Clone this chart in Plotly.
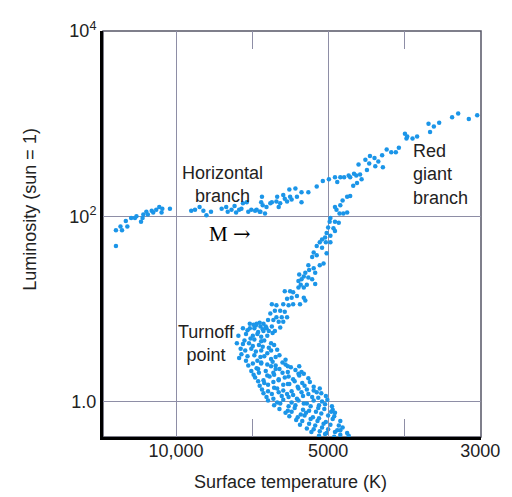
import plotly.graph_objects as go

# x: position along the temperature axis (10,000 K -> 1, 5000 K -> 3, 3000 K -> 5)
# log_lum: log10 of luminosity (sun = 1)

hb_x = [0.21,0.21,0.27,0.29,0.36,0.34,0.41,0.46,0.48,0.56,0.57,0.54,0.61,0.63,0.68,0.70,0.74,0.78,0.81,0.82,
        0.92,1.20,1.25,1.31,1.36,1.40,1.46,1.60,1.66,1.68,1.73,1.77,1.79,1.83,1.86,1.88,1.93,1.95,1.99,2.06,
        2.10,2.12,2.14,2.19,2.04,2.11,2.17,2.13]
hb_log_lum = [1.68,1.85,1.89,1.85,1.89,1.95,1.98,1.98,2.00,1.98,2.02,1.94,2.05,2.02,2.06,2.04,2.07,2.10,2.04,2.08,
              2.08,2.06,2.07,2.10,2.06,2.01,2.05,2.08,2.10,2.05,2.07,2.11,2.04,2.07,2.08,2.14,2.15,2.05,2.07,2.07,
              2.05,2.15,2.12,2.10,2.06,2.05,2.03,2.21]

giant_x = [2.24,2.26,2.32,2.33,2.35,2.37,2.41,2.43,2.46,2.49,2.50,2.52,2.57,2.59,2.65,2.65,2.74,2.85,2.93,3.01,
           3.09,3.12,3.16,3.21,3.27,3.29,3.34,3.37,3.40,3.42,3.44,3.49,3.51,3.54,3.55,3.61,3.62,3.66,3.71,3.72,
           3.77,3.83,3.89,3.93,4.01,4.03,4.04,4.11,4.17,4.32,4.34,4.39,4.46,4.63,4.71,4.85,4.96]
giant_log_lum = [2.14,2.15,2.16,2.21,2.10,2.14,2.23,2.19,2.16,2.29,2.21,2.18,2.30,2.21,2.26,2.15,2.26,2.32,2.38,2.40,
                 2.42,2.37,2.42,2.42,2.44,2.42,2.46,2.44,2.56,2.45,2.40,2.61,2.50,2.57,2.65,2.63,2.54,2.59,2.66,2.53,
                 2.72,2.69,2.69,2.74,2.89,2.84,2.86,2.84,2.86,3.00,2.91,2.97,3.01,3.07,3.11,3.05,3.09]

subgiant_x = [3.16,3.19,3.25,3.29,3.33,3.38,3.09,3.11,3.15,3.20,3.25,
              3.03,3.02,3.09,3.14,3.00,3.07,3.09,2.98,3.03,2.96,2.92,2.89,2.97,3.03,2.85,2.92,2.81,2.79,2.85,2.98,
              2.94,2.89,2.81,2.74,2.75,2.83,2.70,2.68,2.62,2.65,2.74,2.79,2.61,2.64,2.68,2.72,2.83,2.61,2.54,2.50,
              2.43,2.59,2.52,2.46,2.68,2.70,2.63,2.54,2.48,2.41,2.32,2.26,2.37,2.43,2.30,2.24,2.39,2.46,2.32,2.28,
              2.35,2.41,2.21,2.15,2.06,2.02,2.11,2.19,2.26,2.37,2.15,2.30,1.97]
subgiant_log_lum = [2.12,2.17,2.21,2.22,2.33,2.36,2.10,2.07,2.03,2.03,2.04,
                    1.98,1.94,1.94,1.93,1.88,1.87,1.84,1.82,1.79,1.77,1.75,1.72,1.72,1.72,1.68,1.66,1.61,1.56,1.58,1.60,
                    1.49,1.47,1.44,1.47,1.42,1.39,1.39,1.35,1.37,1.32,1.34,1.32,1.30,1.26,1.23,1.26,1.27,1.23,1.18,1.19,
                    1.19,1.14,1.12,1.11,1.12,1.09,1.05,1.05,1.04,1.05,1.04,1.05,0.98,0.97,0.98,0.95,0.91,0.91,0.91,0.88,
                    0.86,0.86,0.88,0.84,0.84,0.83,0.81,0.79,0.81,0.80,0.76,0.76,0.79]

turnoff_x = [1.97,2.05,2.10,2.18, 1.94,2.03,2.08,2.14,2.22, 1.92,2.01,2.07,2.12,2.20,2.27,
             1.90,1.98,2.03,2.12,2.16,2.25, 1.88,1.96,2.01,2.09,2.14,2.22,2.29,
             1.85,1.91,1.99,2.05,2.12,2.20,2.25,2.33, 1.86,1.94,2.03,2.11,2.16,2.25,2.31,2.36,2.44,
             1.92,2.01,2.07,2.12,2.20,2.27,2.31,2.40,2.47, 1.82,1.80,1.88,1.83]
turnoff_log_lum = [0.84,0.82,0.85,0.81, 0.77,0.79,0.75,0.78,0.76, 0.73,0.71,0.73,0.70,0.71,0.74,
                   0.66,0.68,0.67,0.65,0.66,0.63, 0.62,0.63,0.60,0.61,0.59,0.58,0.61,
                   0.57,0.55,0.57,0.54,0.55,0.52,0.55,0.56, 0.51,0.49,0.50,0.48,0.49,0.46,0.48,0.50,0.45,
                   0.44,0.41,0.44,0.42,0.40,0.43,0.39,0.42,0.38, 0.71,0.63,0.79,0.47]

ms_x = [1.95,2.06,2.12,2.25,2.31,2.44,2.51,2.62,
        1.99,2.08,2.18,2.28,2.36,2.47,2.57,2.65,
        2.02,2.09,2.20,2.29,2.40,2.48,2.61,2.68,
        2.04,2.15,2.23,2.35,2.43,2.54,2.62,2.74,
        2.08,2.16,2.28,2.35,2.47,2.56,2.66,2.76,
        2.10,2.21,2.29,2.41,2.49,2.60,2.69,2.81,
        2.13,2.21,2.33,2.41,2.52,2.61,2.72,2.81,2.89,
        2.15,2.26,2.35,2.46,2.54,2.65,2.74,2.85,2.91,
        2.19,2.28,2.39,2.48,2.59,2.67,2.79,2.87,2.97,
        2.21,2.33,2.41,2.52,2.61,2.72,2.81,2.92,2.99,
        2.29,2.37,2.48,2.57,2.68,2.77,2.88,2.96,3.05,
        2.36,2.47,2.56,2.67,2.75,2.87,2.95,3.06,
        2.44,2.52,2.64,2.71,2.84,2.91,3.04,3.09,
        2.49,2.60,2.69,2.80,2.88,3.00,3.08,
        2.58,2.66,2.77,2.86,2.97,3.06,3.16,
        2.63,2.75,2.83,2.94,3.03,3.14,
        2.72,2.81,2.92,3.00,3.12,3.19,
        2.78,2.89,2.98,3.09,3.16,3.25,
        2.88,2.96,3.08,3.16,3.27]
ms_log_lum = [0.39,0.36,0.41,0.38,0.35,0.40,0.37,0.38,
              0.33,0.35,0.33,0.31,0.35,0.32,0.34,0.32,
              0.29,0.31,0.28,0.29,0.31,0.27,0.30,0.30,
              0.26,0.23,0.27,0.24,0.26,0.24,0.28,0.25,
              0.22,0.20,0.21,0.23,0.19,0.22,0.20,0.21,
              0.17,0.18,0.15,0.18,0.19,0.16,0.17,0.16,
              0.13,0.11,0.14,0.12,0.11,0.14,0.13,0.12,0.14,
              0.09,0.08,0.10,0.08,0.07,0.10,0.08,0.10,0.09,
              0.05,0.03,0.06,0.05,0.03,0.06,0.05,0.04,0.06,
              0.01,-0.01,0.02,-0.01,0.01,-0.02,0.01,0.00,0.02,
              -0.04,-0.02,-0.05,-0.04,-0.02,-0.05,-0.04,-0.03,-0.05,
              -0.08,-0.10,-0.07,-0.09,-0.10,-0.07,-0.08,-0.09,
              -0.12,-0.11,-0.14,-0.12,-0.11,-0.13,-0.11,-0.12,
              -0.16,-0.17,-0.15,-0.17,-0.18,-0.15,-0.16,
              -0.20,-0.21,-0.19,-0.21,-0.22,-0.19,-0.21,
              -0.25,-0.24,-0.26,-0.24,-0.25,-0.26,
              -0.29,-0.30,-0.28,-0.30,-0.31,-0.28,
              -0.33,-0.32,-0.34,-0.33,-0.31,-0.34,
              -0.37,-0.35,-0.38,-0.36,-0.37]

x_tick_vals = [1, 3, 5]
x_tick_text = ["10,000", "5000", "3000"]
x_minor_ticks = [2, 4]
y_tick_vals = [1, 100, 10000]
y_tick_text = ["1.0", "10<sup>2</sup>", "10<sup>4</sup>"]

DOT = "#1b95e8"
GRID = "#8e8ea6"
FONT = "Liberation Sans, Arial, sans-serif"

fig = go.Figure()
groups = [(hb_x, hb_log_lum), (giant_x, giant_log_lum), (subgiant_x, subgiant_log_lum),
          (turnoff_x, turnoff_log_lum), (ms_x, ms_log_lum)]
for gx, gl in groups:
    fig.add_trace(go.Scatter(x=gx, y=[10 ** v for v in gl], mode="markers",
                             marker=dict(size=4.5, color=DOT, line=dict(width=0)),
                             showlegend=False, hoverinfo="skip"))
fig.add_trace(go.Scatter(x=[None], y=[None], xaxis="x2", mode="markers", showlegend=False))

# page body has an 8px margin: the figure is sized/offset so the plot lands where the reference has it
fig.update_layout(
    width=504, height=489,
    margin=dict(l=95, r=31, t=11, b=60),
    paper_bgcolor="white", plot_bgcolor="white",
    font=dict(family=FONT, size=18, color="#222"),
    xaxis=dict(range=[0.04, 5.01], tickmode="array", tickvals=x_tick_vals, ticktext=x_tick_text,
               showgrid=True, gridcolor=GRID, gridwidth=1, zeroline=False,
               showline=True, linecolor="black", linewidth=3,
               ticks="inside", ticklen=18, tickcolor=GRID, tickwidth=1,
               minor=dict(tickmode="array", tickvals=x_minor_ticks, ticks="inside", ticklen=18,
                          tickcolor=GRID, tickwidth=1, showgrid=False),
               tickfont=dict(size=18), ticklabelstandoff=-5, ticklabeloverflow="allow"),
    xaxis2=dict(overlaying="x", side="top", range=[0.04, 5.01], tickmode="array",
                tickvals=x_minor_ticks, ticks="inside", ticklen=18, tickcolor=GRID, tickwidth=1,
                showticklabels=False, showgrid=False, zeroline=False, showline=False),
    yaxis=dict(type="log", range=[-0.383, 4], tickmode="array", tickvals=y_tick_vals, ticktext=y_tick_text,
               showgrid=True, gridcolor=GRID, gridwidth=1, zeroline=False,
               showline=True, linecolor="black", linewidth=3, ticks="",
               tickfont=dict(size=18), ticklabeloverflow="allow"),
    shapes=[dict(type="rect", xref="paper", yref="paper", x0=0, x1=1, y0=0, y1=1,
                 line=dict(color="#555566", width=1.5), layer="below")],
    annotations=[
        dict(text="Horizontal<br>branch", x=0.315, y=0.622, xref="paper", yref="paper",
             xanchor="center", yanchor="middle", showarrow=False, align="center", font=dict(size=18)),
        dict(text="Red<br>giant<br>branch", x=0.815, y=0.646, xref="paper", yref="paper",
             xanchor="left", yanchor="middle", showarrow=False, align="left", font=dict(size=18)),
        dict(text="Turnoff<br>point", x=0.275, y=0.2297, xref="paper", yref="paper",
             xanchor="center", yanchor="middle", showarrow=False, align="center", font=dict(size=18)),
        dict(text='M <span style="font-family:DejaVu Serif">→</span>', x=0.335, y=0.5,
             xref="paper", yref="paper", showarrow=False, xanchor="center", yanchor="middle",
             font=dict(family="Liberation Serif, Times New Roman, serif", size=21, color="black")),
        dict(text="Surface temperature (K)", x=0.495, y=-0.11, xref="paper", yref="paper",
             showarrow=False, xanchor="center", yanchor="middle", font=dict(size=18)),
        dict(text="Luminosity (sun = 1)", x=-0.193, y=0.56, xref="paper", yref="paper",
             showarrow=False, textangle=-90, xanchor="center", yanchor="middle", font=dict(size=18)),
    ],
)

fig.write_html("out.html")
